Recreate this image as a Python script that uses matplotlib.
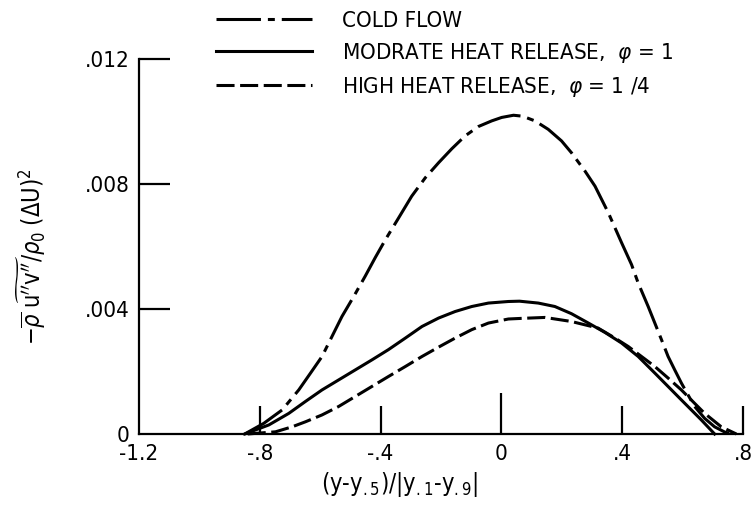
import matplotlib
matplotlib.use("Agg")
import matplotlib.pyplot as plt
import matplotlib.font_manager as fm

# ---- data -------------------------------------------------------------
cold_x = [-0.85, -0.787, -0.726, -0.671, -0.632, -0.594, -0.561, -0.528, -0.489,
          -0.451, -0.418, -0.384, -0.340, -0.297, -0.252, -0.208, -0.164, -0.120,
          -0.076, -0.032, 0.001, 0.040, 0.070, 0.111, 0.155, 0.199, 0.232, 0.277,
          0.310, 0.354, 0.398, 0.431, 0.453, 0.486, 0.508, 0.530, 0.552, 0.574,
          0.596, 0.618, 0.640, 0.673, 0.706, 0.740, 0.765]
cold_y = [0.0, 0.00034, 0.00077, 0.00141, 0.00195, 0.00248, 0.00312, 0.00376, 0.00440,
          0.00505, 0.00564, 0.00622, 0.00692, 0.00761, 0.00820, 0.00868, 0.00913, 0.00954,
          0.00984, 0.01002, 0.01013, 0.01020, 0.01017, 0.01002, 0.00975, 0.00938, 0.00900,
          0.00841, 0.00793, 0.00708, 0.00612, 0.00542, 0.00483, 0.00408, 0.00355, 0.00302,
          0.00248, 0.00205, 0.00163, 0.00125, 0.00088, 0.00050, 0.00023, 0.00006, 0.0]

mod_x = [-0.85, -0.770, -0.704, -0.649, -0.594, -0.539, -0.484, -0.429, -0.374,
         -0.318, -0.263, -0.208, -0.153, -0.098, -0.043, 0.023, 0.060, 0.122, 0.177,
         0.232, 0.288, 0.343, 0.398, 0.453, 0.508, 0.552, 0.596, 0.629, 0.662, 0.706]
mod_y = [0.0, 0.00029, 0.00066, 0.00104, 0.00141, 0.00173, 0.00205, 0.00237, 0.00270,
         0.00307, 0.00344, 0.00371, 0.00392, 0.00408, 0.00419, 0.00424, 0.00425, 0.00419,
         0.00408, 0.00385, 0.00355, 0.00325, 0.00291, 0.00248, 0.00195, 0.00152, 0.00109,
         0.00077, 0.00045, 0.0]

high_x = [-0.84, -0.748, -0.693, -0.649, -0.594, -0.539, -0.484, -0.429, -0.374,
          -0.318, -0.263, -0.208, -0.153, -0.098, -0.043, 0.023, 0.067, 0.144, 0.232,
          0.320, 0.376, 0.420, 0.464, 0.508, 0.552, 0.596, 0.640, 0.673, 0.728, 0.778]
high_y = [0.0, 0.00007, 0.00023, 0.00039, 0.00061, 0.00088, 0.00120, 0.00152, 0.00184,
          0.00216, 0.00248, 0.00278, 0.00307, 0.00334, 0.00355, 0.00368, 0.00370, 0.00373,
          0.00360, 0.00339, 0.00307, 0.00280, 0.00248, 0.00216, 0.00179, 0.00141, 0.00098,
          0.00066, 0.00023, 0.0]

labels = ["COLD FLOW",
          r"MODRATE HEAT RELEASE,  $\varphi$ = 1",
          r"HIGH HEAT RELEASE,  $\varphi$ = 1 /4"]

x_ticks = [-1.2, -0.8, -0.4, 0.0, 0.4, 0.8]
x_ticklabels = ["-1.2", "-.8", "-.4", "0", ".4", ".8"]
y_ticks = [0.0, 0.004, 0.008, 0.012]
y_ticklabels = ["0", ".004", ".008", ".012"]

# ---- font: prefer a narrow sans ---------------------------------------
entries = fm.fontManager.ttflist
names = {f.name for f in entries}
stretch = "normal"
if "Liberation Sans Narrow" in names:
    family = "Liberation Sans Narrow"
elif any(f.name == "DejaVu Sans" and "condensed" in str(f.stretch) for f in entries):
    family = "DejaVu Sans"
    stretch = "condensed"
else:
    family = "Liberation Sans"

plt.rcParams["font.family"] = [family, "DejaVu Sans"]
plt.rcParams["font.stretch"] = stretch
plt.rcParams["mathtext.fontset"] = "dejavusans"
plt.rcParams["lines.scale_dashes"] = False

fig = plt.figure(figsize=(7.52, 5.11), dpi=100)
ax = fig.add_axes([139 / 752, 77 / 511, 604 / 752, 375 / 511])

lw = 2.2
l1, = ax.plot(cold_x, cold_y, color="black", lw=lw, dashes=(32, 5, 5, 5),
              clip_on=False)
l2, = ax.plot(mod_x, mod_y, color="black", lw=lw, clip_on=False)
l3, = ax.plot(high_x, high_y, color="black", lw=lw, dashes=(13, 4),
              clip_on=False)

ax.set_xlim(-1.2, 0.8)
ax.set_ylim(0, 0.012)
for s in ("top", "right"):
    ax.spines[s].set_visible(False)
for s in ("left", "bottom"):
    ax.spines[s].set_linewidth(1.6)

ax.set_xticks(x_ticks)
ax.set_xticklabels(x_ticklabels)
ax.set_yticks(y_ticks)
ax.set_yticklabels(y_ticklabels)
ax.tick_params(axis="x", direction="in", length=20, width=1.6, pad=7,
               labelsize=16)
ax.tick_params(axis="y", direction="in", length=22, width=1.6, pad=7,
               labelsize=16)
# the tick at the origin of the abscissa is drawn taller
ax.xaxis.get_major_ticks()[3].tick1line.set_markersize(29.5)
ax.xaxis.get_major_ticks()[0].tick1line.set_visible(False)
ax.yaxis.get_major_ticks()[0].tick1line.set_visible(False)

ax.set_xlabel(r"(y-y$_{.5}$)/|y$_{.1}$-y$_{.9}$|", fontsize=17)
ax.xaxis.set_label_coords(0.432, -0.095)
ax.set_ylabel(r"$-\overline{\rho}\;\widetilde{\mathrm{u}^{\prime\prime}\mathrm{v}^{\prime\prime}}/\rho_0\;(\Delta \mathrm{U})^2$",
              fontsize=17)
ax.yaxis.set_label_coords(-0.150, 0.472)

ax.legend([l1, l2, l3], labels, loc="upper left",
          bbox_to_anchor=(216 / 752, 500 / 511), bbox_transform=fig.transFigure,
          frameon=False, borderpad=0, borderaxespad=0, handlelength=4.3,
          handletextpad=1.35, labelspacing=0.45, fontsize=16)

fig.savefig("out.png", dpi=100)
